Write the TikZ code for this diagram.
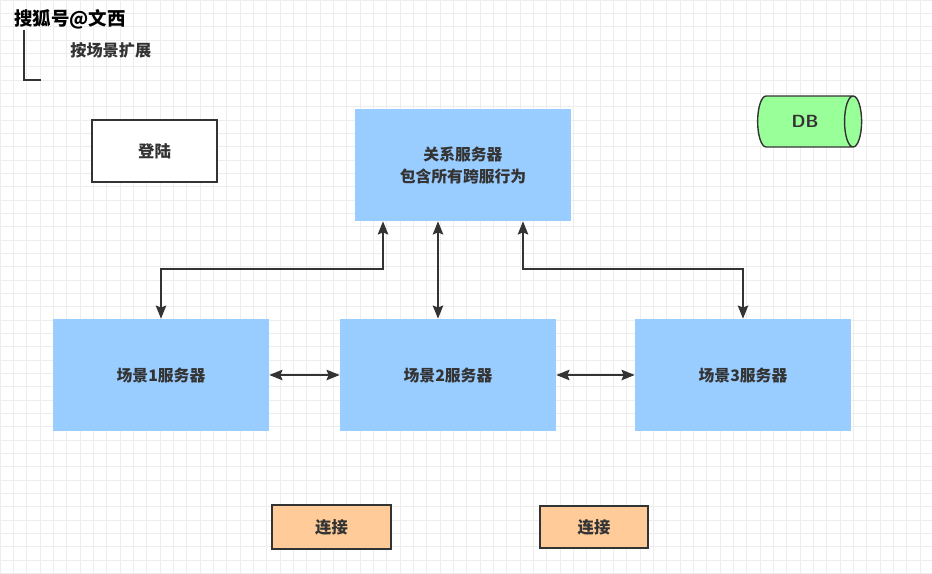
\documentclass[tikz,border=0pt]{standalone}
\usepackage{fontspec}
\newfontfamily\cjk{Noto Sans CJK SC}
\usetikzlibrary{arrows.meta, shapes.geometric}
\definecolor{srvblue}{HTML}{99CCFF}
\definecolor{connorange}{HTML}{FFCC99}
\definecolor{dbgreen}{HTML}{99FF99}
\definecolor{ink}{HTML}{333333}

\begin{document}
\begin{tikzpicture}[x=0.02cm, y=-0.02cm]
        \tikzstyle{server} = [fill=srvblue, minimum width=4.32cm, minimum height=2.24cm, inner sep=0pt, text=ink, font=\cjk\bfseries\fontsize{9}{12.5}\selectfont, align=center]
        \tikzstyle{plain} = [draw=ink, thick, minimum width=2.5cm, minimum height=1.24cm, inner sep=0pt, text=ink, font=\cjk\bfseries\fontsize{9.3}{11}\selectfont]
        \tikzstyle{conn} = [plain, fill=connorange, minimum height=0.88cm]
        \tikzstyle{link} = [{Stealth[length=7.5pt, width=6pt, inset=1.2pt]}-{Stealth[length=7.5pt, width=6pt, inset=1.2pt]}, line width=0.9pt, draw=ink]
        \tikzstyle{gridline} = [draw=black!7, line width=0.4pt]
        \useasboundingbox (0,0) rectangle (932,574);
        % grid
        \foreach \i in {0,...,70} \draw[gridline] (\i*13.333,0) -- (\i*13.333,574);
        \foreach \j in {0,...,43} \draw[gridline] (0,\j*13.333) -- (932,\j*13.333);
        % header
        \node[font=\cjk\bfseries\fontsize{10.5}{12}\selectfont, anchor=west, inner sep=0pt] (mark) at (14,19) {搜狐号@文西};
        \node[font=\cjk\bfseries\fontsize{9.2}{11}\selectfont, text=ink, anchor=west, inner sep=0pt] (scope) at (70,50) {按场景扩展};
        \coordinate (brtop) at (24,30);
        \coordinate (brend) at (41,80);
        \draw[ink, line width=0.8pt] (brtop) |- (brend);
        % boxes
        \node[plain, fill=white] (login) at (154.5,151) {登陆};
        \node[server] (rel) at (463,165) {关系服务器\\包含所有跨服行为};
        \node[cylinder, draw=ink, thick, fill=dbgreen, shape aspect=1.4, minimum width=1.02cm, minimum height=2.08cm, text=ink, font=\sffamily\bfseries\fontsize{10}{12}\selectfont, inner sep=0pt] (db) at (805,121.5) {DB};
        \node[server] (s1) at (161,375) {场景1服务器};
        \node[server] (s2) at (448,375) {场景2服务器};
        \node[server] (s3) at (743,375) {场景3服务器};
        \node[conn, minimum width=2.38cm] (c1) at (331.5,527) {连接};
        \node[conn, minimum width=2.16cm, minimum height=0.84cm] (c2) at (594,527) {连接};
        % links
        \coordinate (j1) at (161,269);
        \coordinate (j2) at (743,269);
        \draw[link] ([xshift=-1.6cm]rel.south) |- (j1) -- (s1.north);
        \draw[link] ([xshift=1.2cm]rel.south) |- (j2) -- (s3.north);
        \draw[link] ([xshift=-0.5cm]rel.south) -- ([xshift=-0.5cm]rel.south |- s2.north);
        \draw[link] (s1) -- (s2);
        \draw[link] (s2) -- (s3);
\end{tikzpicture}
\end{document}
